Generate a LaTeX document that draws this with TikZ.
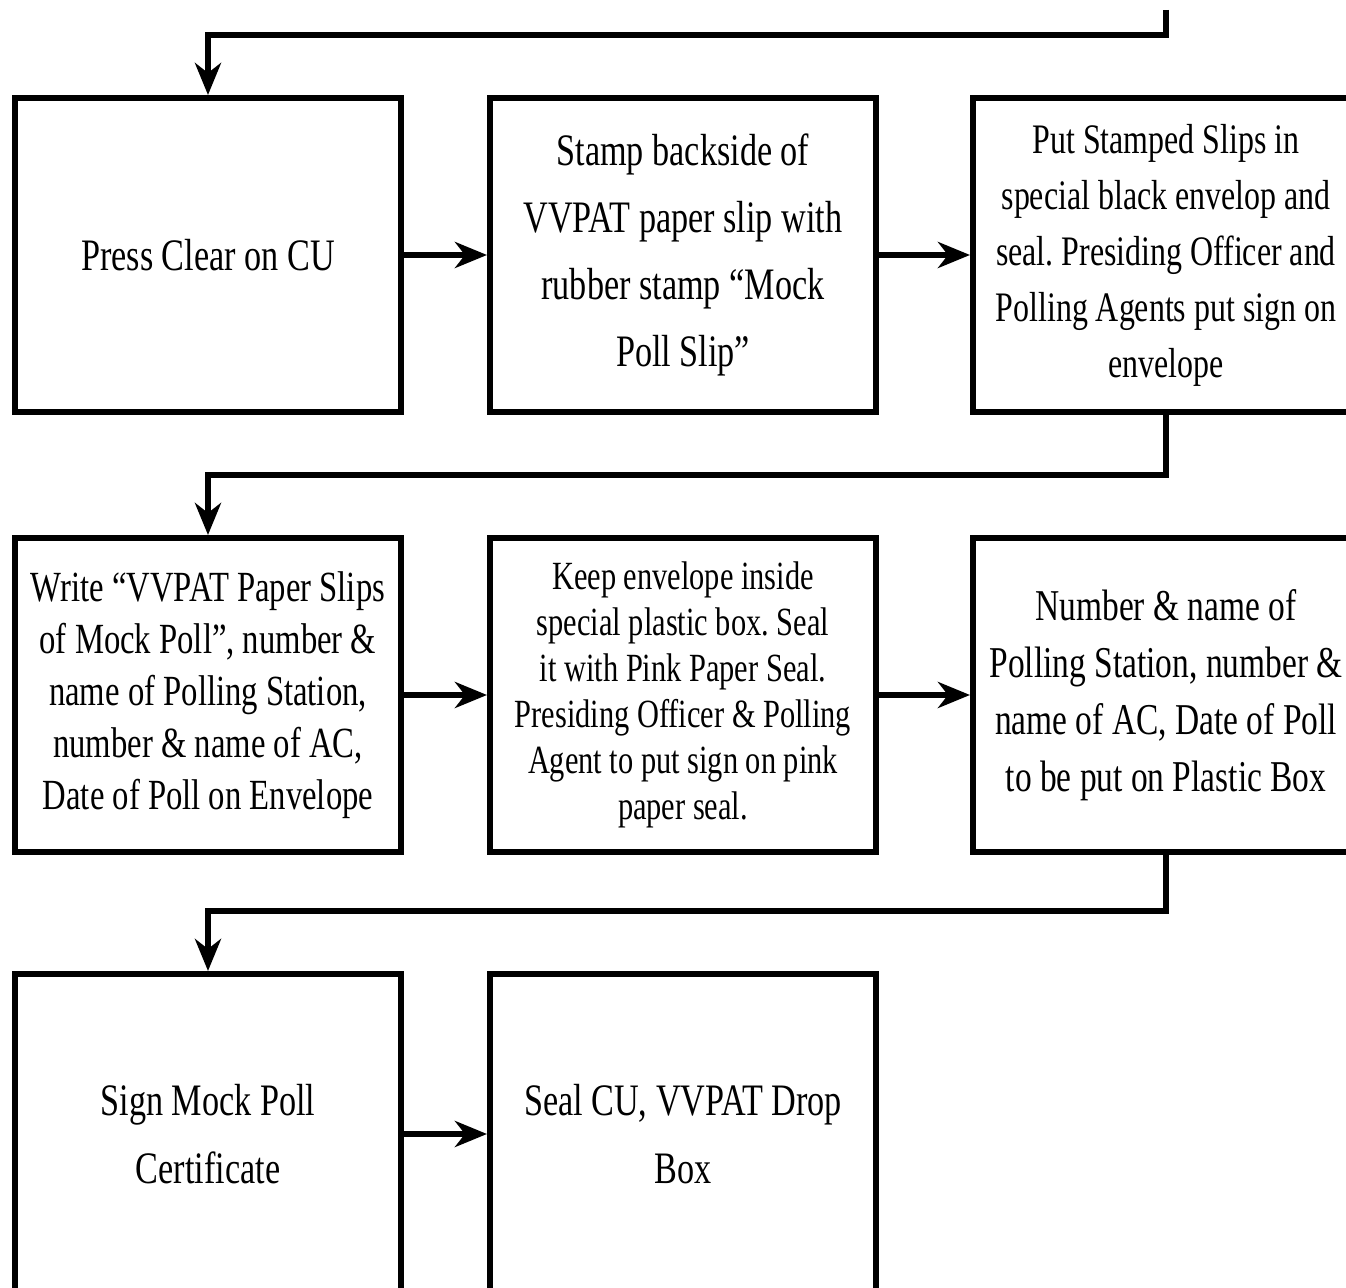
\documentclass[tikz,border=0pt]{standalone}
\usepackage{fontspec}
\setmainfont{Liberation Serif}[FakeStretch=0.76]
\usetikzlibrary{positioning,arrows.meta}
\frenchspacing

\begin{document}
\begin{tikzpicture}[main/.style = {draw, line width=3pt, minimum width=193pt, minimum height=157pt, inner sep=1pt, align=center, font=\fontsize{22.5}{28}\selectfont},
	arr/.style = {line width=3pt, -{Stealth[length=16pt, width=13pt, inset=5pt]}}]
	\useasboundingbox (0,0) rectangle (673pt,-644pt);
	\node[main] (1) at (104pt,-127.5pt) {Press Clear on CU};
	\node[main, font=\fontsize{22.5}{33.5}\selectfont] (2) [right=41.5pt of 1] {Stamp backside of\\VVPAT paper slip with\\rubber stamp “Mock\\Poll Slip”};
	\node[main, font=\fontsize{21}{28}\selectfont] (3) [right=45.5pt of 2] {Put Stamped Slips in\\special black envelop and\\seal. Presiding Officer and\\Polling Agents put sign on\\envelope};
	\node[main, font=\fontsize{21.5}{26}\selectfont] (4) [below=60pt of 1] {Write “VVPAT Paper Slips\\of Mock Poll”, number \&\\name of Polling Station,\\number \& name of AC,\\Date of Poll on Envelope};
	\node[main, font=\fontsize{20}{23}\selectfont] (5) [right=41.5pt of 4] {Keep envelope inside\\special plastic box. Seal\\it with Pink Paper Seal.\\Presiding Officer \& Polling\\Agent to put sign on pink\\paper seal.};
	\node[main, font=\fontsize{22}{28.5}\selectfont] (6) [right=45.5pt of 5] {Number \& name of\\Polling Station, number \&\\name of AC, Date of Poll\\to be put on Plastic Box};
	\node[main, minimum height=160pt, font=\fontsize{22.5}{34}\selectfont] (7) [below=58pt of 4] {Sign Mock Poll\\Certificate};
	\node[main, minimum height=160pt, font=\fontsize{22.5}{34}\selectfont] (8) [right=41.5pt of 7] {Seal CU, VVPAT Drop\\Box};
	\coordinate (0) at ([yshift=42.5pt]3.north);
	\draw[arr] (0) -- ++(0,-12.5pt) -| (1);
	\draw[arr] (1) -- (2);
	\draw[arr] (2) -- (3);
	\draw[arr] (3.south) -- ++(0,-30pt) -| (4);
	\draw[arr] (4) -- (5);
	\draw[arr] (5) -- (6);
	\draw[arr] (6.south) -- ++(0,-28pt) -| (7);
	\draw[arr] (7) -- (8);
\end{tikzpicture}
\end{document}
